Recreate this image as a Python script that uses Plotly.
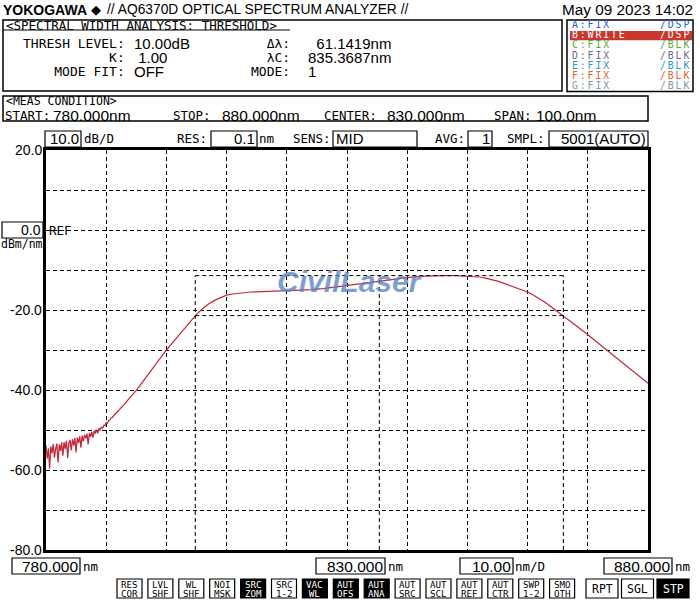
import plotly.graph_objects as go

# ---------------- data ----------------
NOISE_WL = [780.0, 780.2, 780.4, 780.6, 780.8, 781.0, 781.2, 781.4, 781.6, 781.8,
            782.0, 782.2, 782.4, 782.6, 782.8, 783.0, 783.2, 783.4, 783.6, 783.8,
            784.0, 784.2, 784.4, 784.6, 784.8, 785.0, 785.2, 785.4, 785.6, 785.8,
            786.0, 786.2, 786.4, 786.6, 786.8, 787.0, 787.2, 787.4, 787.6, 787.8,
            788.0, 788.2, 788.4, 788.6, 788.8, 789.0, 789.2, 789.4, 789.6, 789.8,
            790.0, 790.2, 790.4, 790.6, 790.8, 791.0, 791.2, 791.4, 791.6, 791.8]
NOISE_DBM = [-53.9, -57.2, -54.6, -59.6, -54.1, -55.8, -53.5, -56.9, -54.8, -53.4,
             -58.1, -53.6, -55.2, -53.1, -56.4, -53.0, -54.7, -52.7, -57.0, -53.3,
             -52.5, -55.1, -52.3, -53.9, -52.0, -55.6, -51.9, -53.2, -51.6, -54.4,
             -51.4, -52.8, -51.2, -52.1, -50.9, -53.6, -50.8, -51.7, -50.5, -51.9,
             -50.2, -50.9, -49.9, -50.8, -49.6, -50.1, -49.2, -49.6, -48.8, -48.9,
             -48.2, -48.3, -47.6, -47.5, -47.0, -46.9, -46.5, -46.2, -45.9, -45.6]
SMOOTH_WL = [792, 793, 794, 795, 796, 797, 798, 799, 800, 801, 802, 803, 804,
             805, 806, 807, 808, 809, 810, 811, 812, 813, 814, 815, 816, 817,
             818, 819, 820, 822, 824, 826, 828, 830, 832, 834, 836, 838, 840,
             842, 844, 846, 848, 850, 852, 853, 854, 855, 856, 857, 858, 859,
             860, 861, 862, 863, 864, 865, 866, 867, 868, 869, 870, 871, 872,
             873, 874, 875, 876, 877, 878, 879, 880]
SMOOTH_DBM = [-45.3, -43.6, -41.8, -40.1, -38.1, -36.0, -33.9, -31.9, -30.0,
              -28.2, -26.4, -24.7, -22.9, -21.1, -19.7, -18.5, -17.6, -16.9,
              -16.3, -16.0, -15.8, -15.6, -15.5, -15.45, -15.4, -15.35, -15.3,
              -15.25, -15.2, -15.05, -14.9, -14.65, -14.25, -13.8, -13.35,
              -12.95, -12.6, -12.25, -11.9, -11.6, -11.45, -11.4, -11.42, -11.5,
              -11.75, -12.05, -12.4, -12.8, -13.3, -13.85, -14.4, -14.95, -15.5,
              -16.3, -17.2, -18.2, -19.3, -20.4, -21.5, -22.6, -23.8, -25.0,
              -26.2, -27.4, -28.7, -29.9, -31.1, -32.3, -33.5, -34.7, -35.9,
              -37.1, -38.3]

START_WL, STOP_WL, CENTER_SET, SPAN = 780.0, 880.0, 830.0, 100.0
REF_LEVEL, DB_DIV, NM_DIV = 0.0, 10.0, 10.00
Y_TOP, Y_BOTTOM = 20.0, -80.0
Y_LABELS = [20.0, -20.0, -40.0, -60.0, -80.0]
THRESH_DB, K_VAL = 10.00, 1.00
DELTA_WL, CENTER_WL = 61.1419, 835.3687
PEAK_DBM = -11.4
MODE_FIT, MODE_NO = "OFF", 1
RES, SENS, AVG, SMPL = 0.1, "MID", 1, "5001(AUTO)"
DATE = "May 09 2023 14:02"
TRACES = [("A:FIX", "/DSP", "#1f5fe0"), ("B:WRITE", "/DSP", "#ffffff"),
          ("C:FIX", "/BLK", "#5aa83c"), ("D:FIX", "/BLK", "#6c6c88"),
          ("E:FIX", "/BLK", "#2b98d0"), ("F:FIX", "/BLK", "#f0602a"),
          ("G:FIX", "/BLK", "#8098a8")]
BUTTONS = [("RES", "COR", False), ("LVL", "SHF", False), ("WL", "SHF", False),
           ("NOI", "MSK", False), ("SRC", "ZOM", True), ("SRC", "1-2", False),
           ("VAC", "WL", True), ("AUT", "OFS", True), ("AUT", "ANA", True),
           ("AUT", "SRC", False), ("AUT", "SCL", False), ("AUT", "REF", False),
           ("AUT", "CTR", False), ("SWP", "1-2", False), ("SMO", "OTH", False)]
BIG_BUTTONS = [("RPT", False), ("SGL", False), ("STP", True)]

# ---------------- geometry helpers ----------------
PL, PR, PT, PB = 46, 648, 150, 550


def px(x):
    return (x - PL) / (PR - PL)


def py(y):
    return (PB - y) / (PB - PT)


VAL = "Liberation Sans, Arial, sans-serif"
MONO = "DejaVu Sans Mono, Liberation Mono, monospace"

annotations = []
shapes = []


def txt(x, y, s, size=15, color="black", family=VAL, anchor="left", bold=False):
    annotations.append(dict(
        x=px(x), y=py(y), xref="paper", yref="paper", text=s, showarrow=False,
        xanchor=anchor, yanchor="middle", borderpad=0,
        font=dict(size=size, color=color, family=family,
                  weight="bold" if bold else "normal")))


def block(x, yc, lines, spacing, size, family, anchor="left", colors=None, style=""):
    """Multi-line text; line pitch = spacing px, glyph size = size px."""
    parts = []
    for i, ln in enumerate(lines):
        col = colors[i] if colors else "black"
        parts.append(f'<span style="font-size:{size}px;color:{col};{style}">{ln}</span>')
    annotations.append(dict(
        x=px(x), y=py(yc), xref="paper", yref="paper", text="<br>".join(parts),
        showarrow=False, xanchor=anchor, yanchor="middle", align=anchor, borderpad=0,
        font=dict(size=spacing / 1.3, family=family, color="black")))


def box(x0, y0, x1, y1, fill="white", line="black", w=1.2):
    shapes.append(dict(type="rect", xref="paper", yref="paper",
                       x0=px(x0), x1=px(x1), y0=py(y0), y1=py(y1),
                       fillcolor=fill, line=dict(color=line, width=w), layer="below"))


def hline(x0, x1, y, w=1.2):
    shapes.append(dict(type="line", xref="paper", yref="paper",
                       x0=px(x0), x1=px(x1), y0=py(y), y1=py(y),
                       line=dict(color="black", width=w)))


fig = go.Figure()
fig.add_trace(go.Scatter(x=NOISE_WL + SMOOTH_WL, y=NOISE_DBM + SMOOTH_DBM,
                         mode="lines", line=dict(color="#c4283a", width=1.25),
                         hoverinfo="skip", showlegend=False))

# threshold markers (data coordinates)
left_wl = CENTER_WL - DELTA_WL / 2
right_wl = CENTER_WL + DELTA_WL / 2
DASH = "4px,3px"
for xw in (left_wl, CENTER_WL, right_wl):
    shapes.append(dict(type="line", xref="x", yref="y", x0=xw, x1=xw,
                       y0=Y_BOTTOM, y1=PEAK_DBM, line=dict(color="black", width=1, dash=DASH)))
for yl in (PEAK_DBM, PEAK_DBM - THRESH_DB):
    shapes.append(dict(type="line", xref="x", yref="y", x0=left_wl, x1=right_wl,
                       y0=yl, y1=yl, line=dict(color="black", width=1, dash=DASH)))

LS = 12.5  # label (mono) size
VS = 15    # value size

# ---- header ----
txt(2, 10, "YOKOGAWA", size=14, bold=True)
txt(90, 10, "◆", size=13, family="DejaVu Sans")
txt(106, 10, "// AQ6370D OPTICAL SPECTRUM ANALYZER //", size=13.8)
txt(694, 10, DATE, size=15.3, anchor="right")

# ---- spectral width box ----
box(3, 20, 562, 91, w=1.5)
txt(5, 25, "&lt;SPECTRAL WIDTH ANALYSIS: THRESHOLD&gt;", size=12.5, family=MONO)
hline(3, 290, 30)
block(126, 57, ["THRESH LEVEL:", "K:", "MODE FIT:"], 14, 13, MONO, anchor="right")
block(133, 57, [f"{THRESH_DB:.2f}dB", f"&nbsp;{K_VAL:.2f}", MODE_FIT], 14, VS, VAL)
block(291, 57, ["Δλ:", "λC:", "MODE:"], 14, 13, MONO, anchor="right")
block(306.5, 57, [f"&nbsp;&nbsp;{DELTA_WL:.4f}nm", f"{CENTER_WL:.4f}nm", str(MODE_NO)],
      14, VS, VAL)

# ---- trace box ----
box(567, 20, 693, 91.5, w=1.5)
box(570, 31, 692, 40.3, fill="#c8382f", line="#c8382f", w=0)
tcols = [c for _, _, c in TRACES]
block(571, 55.3, [a for a, _, _ in TRACES], 10.2, 9.8, MONO, colors=tcols,
      style="letter-spacing:1.9px")
block(692, 55.3, [b for _, b, _ in TRACES], 10.2, 9.8, MONO, anchor="right",
      colors=tcols, style="letter-spacing:1.9px")

# ---- meas condition box ----
box(3, 96, 648, 121, w=1.5)
txt(5, 101.5, "&lt;MEAS CONDITION&gt;", size=11.5, family=MONO)
txt(4, 115.5, "START:", size=LS, family=MONO)
txt(52, 115, f"{START_WL:.3f}nm", size=15.5)
txt(172, 115.5, "STOP:", size=LS, family=MONO)
txt(221, 115, f"{STOP_WL:.3f}nm", size=15.5)
txt(323, 115.5, "CENTER:", size=LS, family=MONO)
txt(386, 115, f"{CENTER_SET:.3f}nm", size=15.5)
txt(493, 115.5, "SPAN:", size=LS, family=MONO)
txt(535, 115, f"{SPAN:.1f}nm", size=15.5)

# ---- settings row ----
RY = 139
box(45, 131, 81, 147)
txt(80, RY, f"{DB_DIV:.1f}", size=VS, anchor="right")
txt(83, RY, "dB/D", size=LS, family=MONO)
txt(208, RY, "RES:", size=LS, family=MONO, anchor="right")
box(211, 131, 257, 147)
txt(256, RY, f"{RES:.1f}", size=VS, anchor="right")
txt(258, RY, "nm", size=LS, family=MONO)
txt(332, RY, "SENS:", size=LS, family=MONO, anchor="right")
box(333, 131, 417, 147)
txt(335, RY, SENS, size=VS)
txt(466, RY, "AVG:", size=LS, family=MONO, anchor="right")
box(468, 131, 492, 147)
txt(491, RY, str(AVG), size=VS, anchor="right")
txt(546, RY, "SMPL:", size=LS, family=MONO, anchor="right")
box(549, 131, 648, 147)
txt(647, RY, SMPL, size=VS, anchor="right")

# ---- y labels & ref ----
for v in Y_LABELS:
    annotations.append(dict(x=px(43), y=v, xref="paper", yref="y", text=f"{v:.1f}",
                            showarrow=False, xanchor="right", yanchor="middle", borderpad=0,
                            font=dict(size=14, family=VAL, color="black")))
box(2, 222, 43, 238)
txt(42, 230, f"{REF_LEVEL:.1f}", size=14, anchor="right")
txt(48, 230, "REF", size=LS, family=MONO)
txt(22, 243.5, "dBm/nm", size=11.5, family=MONO, anchor="center")

# ---- bottom wavelength row ----
BY = 566
box(12, 558, 80, 574)
txt(79, BY, f"{START_WL:.3f}", size=15.5, anchor="right")
txt(82, BY, "nm", size=LS, family=MONO)
box(316, 558, 385, 574)
txt(384, BY, f"{CENTER_SET:.3f}", size=15.5, anchor="right")
txt(387, BY, "nm", size=LS, family=MONO)
box(460, 558, 513, 574)
txt(512, BY, f"{NM_DIV:.2f}", size=15.5, anchor="right")
txt(514, BY, "nm/D", size=LS, family=MONO)
box(604, 558, 672, 574)
txt(671, BY, f"{STOP_WL:.3f}", size=15.5, anchor="right")
txt(674, BY, "nm", size=LS, family=MONO)

# ---- buttons ----
for i, (t1, t2, inv) in enumerate(BUTTONS):
    x0 = 117 + i * 30.9
    box(x0, 579, x0 + 25, 598, fill="black" if inv else "white")
    col = "white" if inv else "black"
    block(x0 + 12.5, 588.7, [t1, t2], 8.6, 9.2, MONO, anchor="center", colors=[col, col])
for i, (t, inv) in enumerate(BIG_BUTTONS):
    x0 = 586 + i * 35.5
    box(x0, 579, x0 + 32, 598, fill="black" if inv else "white")
    txt(x0 + 16, 588.5, t, size=11.5, color="white" if inv else "black",
        family=MONO, anchor="center")

# ---- watermark ----
annotations.append(dict(x=px(350), y=py(281), xref="paper", yref="paper", text="CivilLaser",
                        showarrow=False, xanchor="center", yanchor="middle",
                        font=dict(size=30, family=VAL,
                                  color="rgba(90,132,198,0.78)", weight="bold", style="italic")))

fig.update_layout(
    width=700, height=600,
    margin=dict(l=PL, r=700 - PR, t=PT, b=600 - PB, pad=0),
    paper_bgcolor="white", plot_bgcolor="white",
    showlegend=False,
    annotations=annotations, shapes=shapes,
    xaxis=dict(range=[START_WL, STOP_WL], dtick=NM_DIV, tick0=START_WL,
               showticklabels=False, ticks="", showgrid=True, gridcolor="black",
               gridwidth=1, griddash=DASH, zeroline=False, showline=True,
               linecolor="black", linewidth=2.5, mirror=True, fixedrange=True),
    yaxis=dict(range=[Y_BOTTOM, Y_TOP], dtick=DB_DIV, tick0=Y_BOTTOM,
               showticklabels=False, ticks="", showgrid=True, gridcolor="black",
               gridwidth=1, griddash=DASH, zeroline=False, showline=True,
               linecolor="black", linewidth=2.5, mirror=True, fixedrange=True),
)

fig.write_html("out.html", config={"displayModeBar": False},
               post_script="document.body.style.margin='0';document.body.style.overflow='hidden';")
